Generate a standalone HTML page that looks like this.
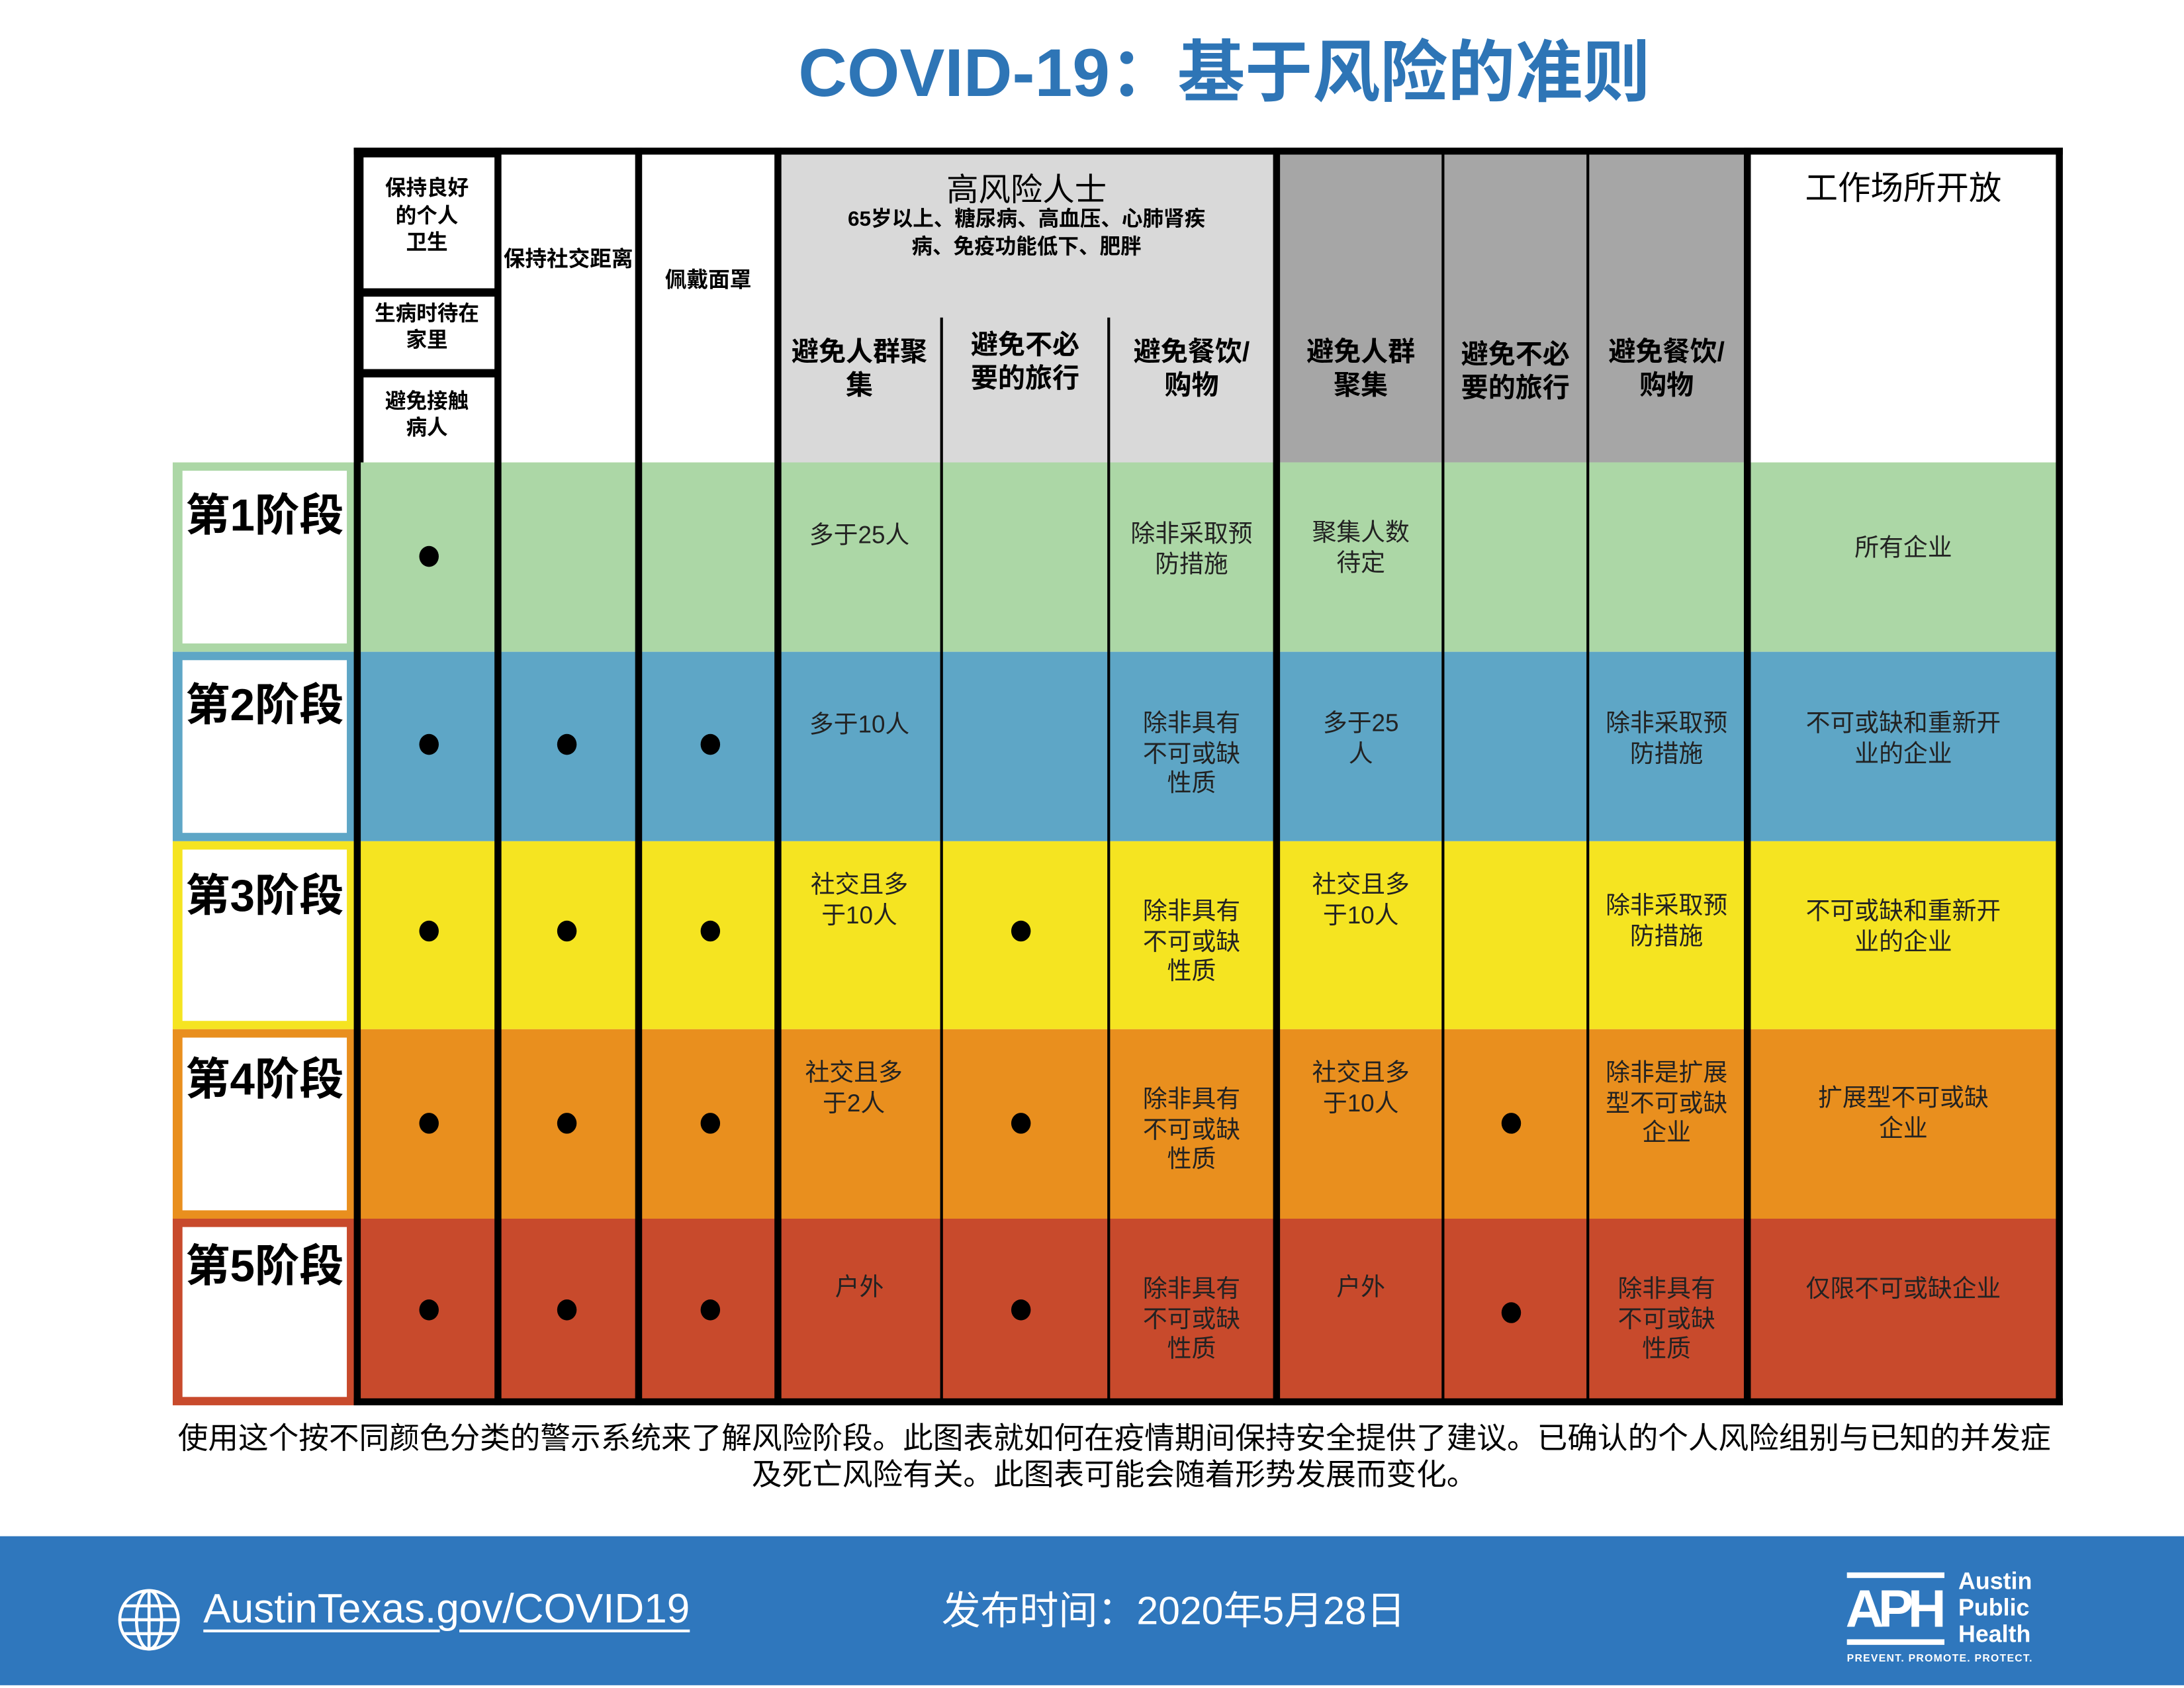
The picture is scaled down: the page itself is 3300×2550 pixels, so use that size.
<!DOCTYPE html>
<html><head><meta charset="utf-8">
<style>
html,body{margin:0;padding:0;background:#fff;}
body{width:3300px;height:2550px;overflow:hidden;}
#w{position:absolute;left:0;top:0;width:1568px;height:1212px;transform:scale(2.10459,2.1040);transform-origin:0 0;font-family:"Liberation Sans","Noto Sans CJK SC",sans-serif;}
.a{position:absolute;}
.t{position:absolute;text-align:center;line-height:21.5px;font-size:17.5px;color:#222;white-space:nowrap;}
.h{position:absolute;text-align:center;color:#000;white-space:nowrap;font-weight:bold;}
.k{position:absolute;background:#000;}
.d{position:absolute;width:14px;height:15px;border-radius:50%;background:#000;}
.st{position:absolute;left:131px;width:118px;background:#fff;}
.sl{position:absolute;left:126px;width:128px;text-align:center;font-size:32px;font-weight:bold;color:#000;}
</style></head><body><div id="w">

<div class="a" style="left:0;top:23px;width:1568px;text-align:center;padding-left:190px;box-sizing:border-box;font-size:48.5px;font-weight:bold;color:#2e75b6;line-height:60px;">COVID-19：基于风险的准则</div>

<div class="a" style="left:258px;top:110px;width:1220px;height:222px;background:#fff"></div>
<div class="a" style="left:558px;top:110px;width:358px;height:222px;background:#d9d9d9"></div>
<div class="a" style="left:916px;top:110px;width:338px;height:222px;background:#a6a6a6"></div>

<div class="a" style="left:124px;top:332px;width:1355px;height:136px;background:#acd7a6"></div>
<div class="a" style="left:124px;top:468px;width:1355px;height:136px;background:#5ea6c6"></div>
<div class="a" style="left:124px;top:604px;width:1355px;height:135px;background:#f5e421"></div>
<div class="a" style="left:124px;top:739px;width:1355px;height:136px;background:#e98f1e"></div>
<div class="a" style="left:124px;top:875px;width:1355px;height:134px;background:#c84a2c"></div>

<div class="st" style="top:338px;height:124px"></div>
<div class="st" style="top:474px;height:124px"></div>
<div class="st" style="top:610px;height:123px"></div>
<div class="st" style="top:745px;height:124px"></div>
<div class="st" style="top:881px;height:122px"></div>
<div class="sl" style="top:345px">第1阶段</div>
<div class="sl" style="top:481px">第2阶段</div>
<div class="sl" style="top:618px">第3阶段</div>
<div class="sl" style="top:750px">第4阶段</div>
<div class="sl" style="top:884px">第5阶段</div>

<div class="k" style="left:254px;top:106px;width:1227px;height:5px"></div>
<div class="k" style="left:254px;top:1004px;width:1227px;height:5px"></div>
<div class="k" style="left:254px;top:106px;width:5px;height:903px"></div>
<div class="k" style="left:1476px;top:106px;width:5px;height:903px"></div>
<div class="k" style="left:355px;top:106px;width:5px;height:903px"></div>
<div class="k" style="left:456px;top:106px;width:5px;height:903px"></div>
<div class="k" style="left:556px;top:106px;width:5px;height:903px"></div>
<div class="k" style="left:914px;top:106px;width:5px;height:903px"></div>
<div class="k" style="left:1252px;top:106px;width:5px;height:903px"></div>
<div class="k" style="left:675px;top:228px;width:2px;height:778px"></div>
<div class="k" style="left:795px;top:228px;width:2px;height:778px"></div>
<div class="k" style="left:1035px;top:110px;width:2px;height:896px"></div>
<div class="k" style="left:1139px;top:110px;width:2px;height:896px"></div>
<div class="k" style="left:258px;top:110px;width:100px;height:3px"></div>
<div class="k" style="left:258px;top:207px;width:100px;height:6px"></div>
<div class="k" style="left:258px;top:265px;width:100px;height:6px"></div>
<div class="k" style="left:258px;top:110px;width:3px;height:222px"></div>

<div class="h" style="left:258px;top:126px;width:97px;font-size:15px;line-height:19.5px">保持良好<br>的个人<br>卫生</div>
<div class="h" style="left:258px;top:216px;width:97px;font-size:15px;line-height:19px">生病时待在<br>家里</div>
<div class="h" style="left:258px;top:279px;width:97px;font-size:15px;line-height:19px">避免接触<br>病人</div>
<div class="h" style="left:358px;top:177px;width:100px;font-size:15.5px;line-height:19px">保持社交距离</div>
<div class="h" style="left:459px;top:192px;width:99px;font-size:15.5px;line-height:19px">佩戴面罩</div>
<div class="h" style="left:558px;top:122px;width:358px;font-size:23px;line-height:28px;font-weight:normal">高风险人士</div>
<div class="h" style="left:558px;top:148px;width:358px;font-size:15px;line-height:19.5px">65岁以上、糖尿病、高血压、心肺肾疾<br>病、免疫功能低下、肥胖</div>
<div class="h" style="left:559px;top:241px;width:116px;font-size:19.5px;line-height:24px">避免人群聚<br>集</div>
<div class="h" style="left:677px;top:236px;width:118px;font-size:19.5px;line-height:24px">避免不必<br>要的旅行</div>
<div class="h" style="left:797px;top:241px;width:117px;font-size:19.5px;line-height:24px">避免餐饮/<br>购物</div>
<div class="h" style="left:919px;top:241px;width:116px;font-size:19.5px;line-height:24px">避免人群<br>聚集</div>
<div class="h" style="left:1037px;top:243px;width:102px;font-size:19.5px;line-height:24px">避免不必<br>要的旅行</div>
<div class="h" style="left:1141px;top:241px;width:111px;font-size:19.5px;line-height:24px">避免餐饮/<br>购物</div>
<div class="h" style="left:1257px;top:121px;width:219px;font-size:23.5px;line-height:28px;font-weight:normal">工作场所开放</div>

<div class="d" style="left:301px;top:392px"></div>
<div class="d" style="left:301px;top:527px"></div><div class="d" style="left:400px;top:527px"></div><div class="d" style="left:503px;top:527px"></div>
<div class="d" style="left:301px;top:661px"></div><div class="d" style="left:400px;top:661px"></div><div class="d" style="left:503px;top:661px"></div><div class="d" style="left:726px;top:661px"></div>
<div class="d" style="left:301px;top:799px"></div><div class="d" style="left:400px;top:799px"></div><div class="d" style="left:503px;top:799px"></div><div class="d" style="left:726px;top:799px"></div><div class="d" style="left:1078px;top:799px"></div>
<div class="d" style="left:301px;top:933px"></div><div class="d" style="left:400px;top:933px"></div><div class="d" style="left:503px;top:933px"></div><div class="d" style="left:726px;top:933px"></div><div class="d" style="left:1078px;top:935px"></div>

<div class="t" style="left:559px;top:374px;width:116px">多于25人</div>
<div class="t" style="left:797px;top:373px;width:117px">除非采取预<br>防措施</div>
<div class="t" style="left:919px;top:372px;width:116px">聚集人数<br>待定</div>
<div class="t" style="left:1257px;top:383px;width:219px">所有企业</div>
<div class="t" style="left:559px;top:510px;width:116px">多于10人</div>
<div class="t" style="left:797px;top:509px;width:117px">除非具有<br>不可或缺<br>性质</div>
<div class="t" style="left:919px;top:509px;width:116px">多于25<br>人</div>
<div class="t" style="left:1141px;top:509px;width:111px">除非采取预<br>防措施</div>
<div class="t" style="left:1257px;top:509px;width:219px">不可或缺和重新开<br>业的企业</div>
<div class="t" style="left:559px;top:625px;width:116px">社交且多<br>于10人</div>
<div class="t" style="left:797px;top:644px;width:117px">除非具有<br>不可或缺<br>性质</div>
<div class="t" style="left:919px;top:625px;width:116px">社交且多<br>于10人</div>
<div class="t" style="left:1141px;top:640px;width:111px">除非采取预<br>防措施</div>
<div class="t" style="left:1257px;top:644px;width:219px">不可或缺和重新开<br>业的企业</div>
<div class="t" style="left:555px;top:760px;width:116px">社交且多<br>于2人</div>
<div class="t" style="left:797px;top:779px;width:117px">除非具有<br>不可或缺<br>性质</div>
<div class="t" style="left:919px;top:760px;width:116px">社交且多<br>于10人</div>
<div class="t" style="left:1141px;top:760px;width:111px">除非是扩展<br>型不可或缺<br>企业</div>
<div class="t" style="left:1257px;top:778px;width:219px">扩展型不可或缺<br>企业</div>
<div class="t" style="left:559px;top:914px;width:116px">户外</div>
<div class="t" style="left:797px;top:915px;width:117px">除非具有<br>不可或缺<br>性质</div>
<div class="t" style="left:919px;top:914px;width:116px">户外</div>
<div class="t" style="left:1141px;top:915px;width:111px">除非具有<br>不可或缺<br>性质</div>
<div class="t" style="left:1257px;top:915px;width:219px">仅限不可或缺企业</div>

<div class="a" style="left:60px;top:1020px;width:1480px;text-align:center;font-size:21.7px;line-height:26px;color:#000;">使用这个按不同颜色分类的警示系统来了解风险阶段。此图表就如何在疫情期间保持安全提供了建议。已确认的个人风险组别与已知的并发症<br>及死亡风险有关。此图表可能会随着形势发展而变化。</div>

<div class="a" style="left:0;top:1103px;width:1568px;height:107px;background:#2f77bd"></div>
<svg class="a" style="left:84px;top:1139px" width="46" height="48" viewBox="0 0 46 48">
<g fill="none" stroke="#fff" stroke-width="2.2"><circle cx="23" cy="24" r="21"/><ellipse cx="23" cy="24" rx="9" ry="21"/><line x1="23" y1="3" x2="23" y2="45"/><line x1="2" y1="24" x2="44" y2="24"/><line x1="5" y1="14" x2="41" y2="14"/><line x1="5" y1="34" x2="41" y2="34"/></g></svg>
<div class="a" style="left:146px;top:1136px;font-size:29.5px;line-height:40px;color:#fff;text-decoration:underline;text-decoration-thickness:2px;text-underline-offset:5px;">AustinTexas.gov/COVID19</div>
<div class="a" style="left:676px;top:1137px;font-size:28px;line-height:40px;color:#fff;">发布时间：2020年5月28日</div>
<div class="a" style="left:1326px;top:1129px;width:70px;height:4px;background:#fff"></div>
<div class="a" style="left:1325px;top:1134px;font-size:38px;font-weight:bold;color:#fff;letter-spacing:-4px;line-height:44px;">APH</div>
<div class="a" style="left:1326px;top:1177px;width:70px;height:4px;background:#fff"></div>
<div class="a" style="left:1406px;top:1126px;font-size:17px;font-weight:bold;color:#fff;line-height:19px;">Austin<br>Public<br>Health</div>
<div class="a" style="left:1326px;top:1186px;font-size:7.5px;font-weight:bold;color:#fff;letter-spacing:0.6px;">PREVENT. PROMOTE. PROTECT.</div>

</div></body></html>
